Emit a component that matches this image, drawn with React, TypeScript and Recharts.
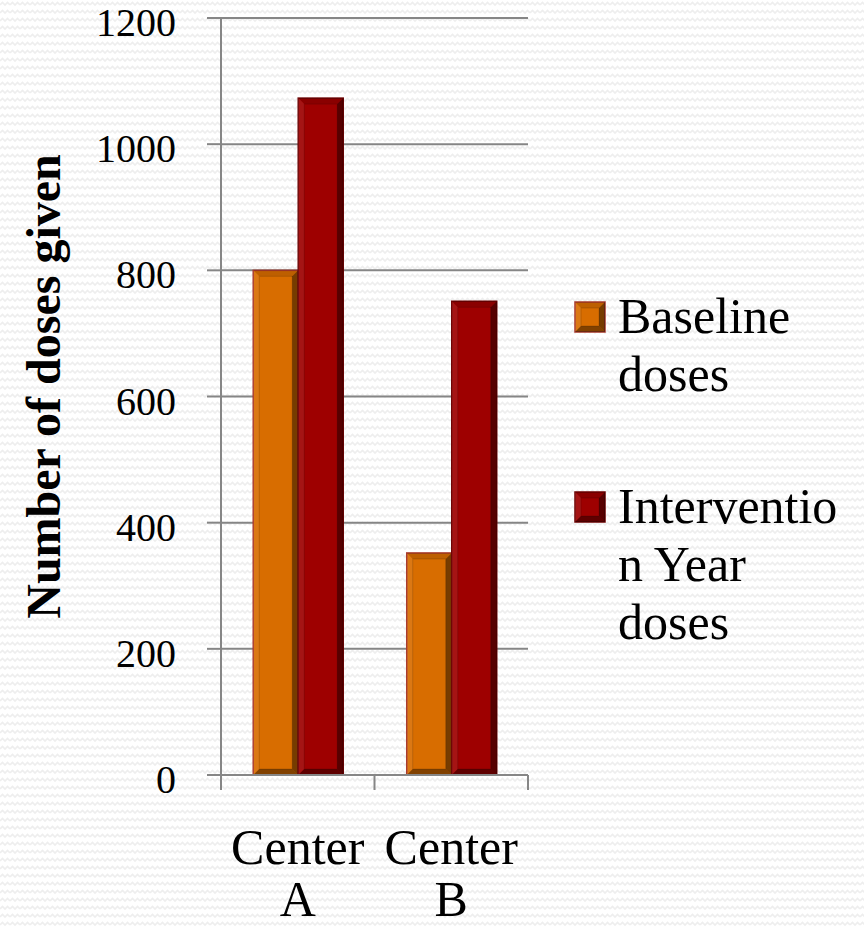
import { BarChart, Bar, XAxis, YAxis, CartesianGrid, Legend } from 'recharts'

const centers = ['Center A', 'Center B']
const baselineDoses = [800, 352]
const interventionDoses = [1073, 751]
const yTicks = [0, 200, 400, 600, 800, 1000, 1200]
const legendLines = [['Baseline', 'doses'], ['Interventio', 'n Year', 'doses']]

const data = centers.map((name, i) => ({
  name,
  baseline: baselineDoses[i],
  intervention: interventionDoses[i],
}))

const SERIF = '"Liberation Serif", "DejaVu Serif", serif'
const GRID = '#868686'

const SERIES = [
  { key: 'baseline', fill: '#D86D00', edge: '#A8382A' },
  { key: 'intervention', fill: '#9E0000', edge: '#6E0000' },
]

// bevelled bar, roughly like the office "3D" bar look
const BevelBar = (props: any) => {
  const { x, y, width, height, fill, edge } = props
  if (!height || height <= 0) return null
  const b = Math.min(6, width / 4, height / 4)
  const x2 = x + width
  const y2 = y + height
  return (
    <g>
      <rect x={x} y={y} width={width} height={height} fill={fill} stroke={edge} strokeWidth={1.5} />
      <polygon points={`${x},${y} ${x2},${y} ${x2 - b},${y + b} ${x + b},${y + b}`} fill="#000" fillOpacity={0.12} />
      <polygon points={`${x},${y} ${x + b},${y + b} ${x + b},${y2 - b} ${x},${y2}`} fill="#fff" fillOpacity={0.08} />
      <polygon points={`${x2},${y} ${x2},${y2} ${x2 - b},${y2 - b} ${x2 - b},${y + b}`} fill="#000" fillOpacity={0.45} />
      <polygon points={`${x},${y2} ${x + b},${y2 - b} ${x2 - b},${y2 - b} ${x2},${y2}`} fill="#000" fillOpacity={0.4} />
      <rect x={x + b} y={y + b} width={width - 2 * b} height={height - 2 * b} fill="none" stroke="#000" strokeOpacity={0.15} strokeWidth={1} />
    </g>
  )
}

// category label plus tick marks on the category edges (office style)
const CenterTick = (props: any) => {
  const { x, y, payload, index, visibleTicksCount, width } = props
  const half = payload.offset || (width && visibleTicksCount ? width / visibleTicksCount / 2 : 0)
  const words = String(payload.value).split(' ')
  const last = index === (visibleTicksCount ?? centers.length) - 1
  return (
    <g>
      <line x1={x - half} x2={x - half} y1={y} y2={y + 15} stroke={GRID} strokeWidth={2} />
      {last && <line x1={x + half} x2={x + half} y1={y} y2={y + 15} stroke={GRID} strokeWidth={2} />}
      <text x={x} y={y} textAnchor="middle" fontFamily={SERIF} fontSize={50} fill="#000">
        {words.map((w, i) => (
          <tspan key={i} x={x} dy={i === 0 ? 89 : 52}>{w}</tspan>
        ))}
      </text>
    </g>
  )
}

const DoseTick = ({ x, y, payload }: any) => (
  <text x={x} y={y + 18} textAnchor="end" fontFamily={SERIF} fontSize={40} fill="#000">
    {payload.value}
  </text>
)

const YLabel = ({ viewBox }: any) => {
  const cy = viewBox.y + viewBox.height / 2 - 10
  return (
    <text x={60} y={cy} transform={`rotate(-90, 60, ${cy})`} textAnchor="middle" fontFamily={SERIF} fontWeight="bold" fontSize={48} fill="#000">
      Number of doses given
    </text>
  )
}

const Marker = ({ fill, edge }: { fill: string; edge: string }) => (
  <svg width={32} height={32} style={{ display: 'block' }}>
    <BevelBar x={1} y={1} width={30} height={30} fill={fill} edge={edge} />
  </svg>
)

const LegendBox = () => (
  <div style={{ fontFamily: SERIF, fontSize: 50, lineHeight: '58px', color: '#000' }}>
    {SERIES.map((s, i) => (
      <div key={s.key} style={{ display: 'flex', alignItems: 'flex-start', marginBottom: i === 0 ? 74 : 0 }}>
        <div style={{ marginTop: 14, marginRight: 12 }}>
          <Marker fill={s.fill} edge={s.edge} />
        </div>
        <div>
          {legendLines[i].map((l, j) => <div key={j}>{l}</div>)}
        </div>
      </div>
    ))}
  </div>
)

const pattern =
  "url(\"data:image/svg+xml,%3Csvg xmlns='http://www.w3.org/2000/svg' width='10' height='8'%3E%3Cpath d='M0 5 L2.5 2.5 L5 5 L7.5 2.5 L10 5' fill='none' stroke='%23eeeeee' stroke-width='1.6'/%3E%3C/svg%3E\")"

export default function App() {
  return (
    <div style={{ position: 'absolute', left: 0, top: 0, width: 864, height: 926, background: '#fff', backgroundImage: pattern, overflow: 'hidden' }}>
      <BarChart width={864} height={926} data={data} margin={{ top: 18, right: 336, bottom: 0, left: 0 }} barCategoryGap="21%" barGap={0}>
        <CartesianGrid vertical={false} stroke={GRID} strokeWidth={2} />
        <XAxis dataKey="name" height={151} tick={<CenterTick />} tickLine={false} tickSize={0} tickMargin={0} axisLine={{ stroke: GRID, strokeWidth: 2 }} interval={0} />
        <YAxis width={221} domain={[0, 1200]} ticks={yTicks} interval={0} tickSize={14} tickMargin={31}
          tick={<DoseTick />}
          tickLine={{ stroke: GRID, strokeWidth: 2 }} axisLine={{ stroke: GRID, strokeWidth: 2 }}
          label={<YLabel />} />
        <Legend layout="vertical" align="center" verticalAlign="middle" wrapperStyle={{ left: 574, top: 287, width: 290 }} content={<LegendBox />} />
        {SERIES.map(s => (
          <Bar key={s.key} dataKey={s.key} fill={s.fill} isAnimationActive={false}
            shape={(p: any) => <BevelBar {...p} fill={s.fill} edge={s.edge} />} />
        ))}
      </BarChart>
    </div>
  )
}
